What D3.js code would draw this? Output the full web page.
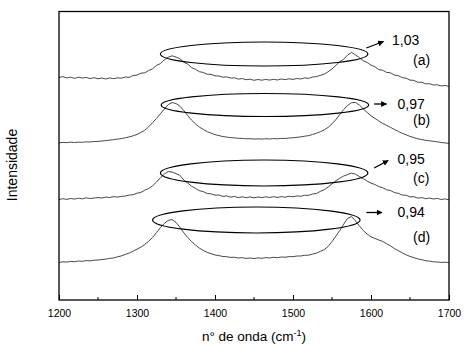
<!DOCTYPE html>
<html>
<head>
<meta charset="utf-8">
<script src="https://cdn.jsdelivr.net/npm/d3@7/dist/d3.min.js"></script>
<style>
  html, body { margin: 0; padding: 0; background: #fff; }
  svg { display: block; font-family: "Liberation Sans", Arial, sans-serif; }
</style>
</head>
<body>
<svg id="chart" width="467" height="345"></svg>
<script>
// Raman spectra (D and G bands), stacked with vertical offsets, intensity in arbitrary units
const waveStart = 1200, waveEnd = 1700, waveStep = 5;
const wavenumbers = d3.range(waveStart, waveEnd + 1, waveStep);

const spectrumA = [
  222.5,223.4,222.0,222.9,221.6,222.8,221.9,222.6,221.4,222.3,221.2,222.0,221.0,222.1,221.3,222.2,221.8,223.0,222.6,224.5,
  224.9,226.8,227.2,229.5,231.2,234.6,236.4,240.1,242.8,244.2,242.9,241.3,237.8,235.9,232.4,230.6,228.3,227.5,225.8,225.6,
  224.2,224.0,222.8,223.1,221.9,222.2,220.9,221.4,220.3,220.8,219.7,220.5,219.8,220.6,219.9,220.7,220.0,221.0,220.4,221.2,
  220.6,221.5,221.0,222.1,221.6,223.0,223.4,224.6,225.8,228.2,231.0,234.6,238.3,240.8,244.9,247.6,245.2,242.4,239.3,237.6,
  234.8,233.3,230.4,229.7,227.6,227.2,224.9,224.3,222.4,221.8,219.9,219.6,217.7,217.8,216.2,216.3,215.0,215.2,214.1,214.5,
  213.6
];
const spectrumB = [
  157.2,157.6,157.3,157.8,157.5,157.9,157.7,158.1,158.0,158.5,158.6,159.0,159.4,159.9,160.3,160.9,161.4,162.2,163.1,164.2,
  165.6,167.5,169.8,173.2,177.4,181.6,186.3,190.9,195.4,197.4,196.5,193.9,189.4,184.5,179.8,176.0,172.9,170.6,168.4,166.8,
  165.4,164.4,163.5,162.9,162.4,162.1,161.7,161.6,161.2,161.3,160.9,161.2,160.9,161.3,161.0,161.4,161.2,161.6,161.5,162.0,
  162.2,162.7,163.1,163.8,164.4,165.5,166.8,168.3,170.2,172.6,176.2,180.4,185.6,190.4,194.6,197.3,197.6,195.0,191.2,187.6,
  184.2,181.6,179.0,176.6,174.6,172.6,170.6,168.6,166.7,165.2,163.6,162.4,161.2,160.4,159.7,159.2,158.7,158.2,157.5,157.1,
  156.6
];
const spectrumC = [
  100.5,101.3,100.6,101.5,100.9,101.8,101.2,102.2,101.5,102.0,102.4,102.0,102.9,102.5,103.4,102.9,103.6,104.0,104.9,105.3,
  106.8,107.6,109.8,111.5,114.2,118.0,122.3,125.8,128.5,127.9,126.4,124.6,119.9,117.0,113.8,111.6,109.3,108.4,106.5,106.2,
  104.8,105.0,103.6,104.1,102.9,103.5,102.4,103.2,102.3,103.1,102.2,103.0,102.4,103.2,102.5,103.3,102.6,103.4,102.8,103.7,
  103.2,104.1,103.7,104.8,104.6,106.0,106.5,108.6,110.2,113.0,116.1,119.3,121.8,124.0,125.4,126.9,125.8,123.6,121.4,118.9,
  116.8,115.5,113.4,112.3,110.2,109.5,107.4,106.7,104.9,104.8,103.1,103.3,101.9,102.4,101.3,102.0,101.0,101.6,100.5,101.1,
  100.1
];
const spectrumD = [
  37.5,38.2,37.9,38.6,38.3,39.0,38.7,39.4,39.1,39.8,40.0,40.5,40.9,41.6,42.1,43.2,44.1,45.6,47.0,48.9,
  50.8,52.9,55.6,58.8,62.6,67.4,72.4,76.6,79.6,80.4,77.6,72.8,67.2,62.6,58.4,55.0,51.8,49.6,47.6,46.3,
  45.0,44.4,43.5,43.3,42.6,42.7,42.0,42.3,41.6,42.0,41.5,42.1,41.7,42.4,42.0,42.7,42.3,43.0,42.8,43.4,
  43.3,44.0,44.0,44.7,44.8,45.9,46.8,48.6,50.4,53.6,58.4,63.9,69.6,75.8,81.6,83.4,79.2,74.2,69.6,66.0,
  63.1,61.6,60.0,58.6,56.3,54.1,51.4,49.3,47.2,45.2,43.6,42.4,41.1,40.3,39.3,38.9,38.2,38.0,37.6,37.8,
  37.4
];

// I(D)/I(G) ratio per sample and the sample tags
const ratioLabels = ["1,03", "0,97", "0,95", "0,94"];
const sampleTags = ["(a)", "(b)", "(c)", "(d)"];

// Highlight ellipses around the D/G peak pair: centre wavenumber, centre intensity, half-width (cm-1), half-height (a.u.)
const ellipseCenterWave = [1463, 1464, 1463, 1453];
const ellipseCenterInt = [246, 195, 127, 80];
const ellipseHalfWave = [133, 133, 133, 133];
const ellipseHalfInt = [12, 11.5, 13, 13];

// Axis ticks
const majorTicks = [1200, 1300, 1400, 1500, 1600, 1700];
const minorTicks = [1250, 1350, 1450, 1550, 1650];

const svg = d3.select("#chart");
const margin = { left: 59, right: 18, top: 11.5, bottom: 45 };
const W = 467, H = 345;

const x = d3.scaleLinear().domain([waveStart, waveEnd]).range([margin.left, W - margin.right]);
const y = d3.scaleLinear().domain([0, 288.5]).range([H - margin.bottom, margin.top]);

const spectra = [spectrumA, spectrumB, spectrumC, spectrumD];

// Spectra
const line = d3.line()
  .x((d, i) => x(wavenumbers[i]))
  .y(d => y(d));

svg.append("g").selectAll("path")
  .data(spectra)
  .join("path")
  .attr("d", line)
  .attr("fill", "none")
  .attr("stroke", "#333")
  .attr("stroke-width", 0.9)
  .attr("stroke-linejoin", "round");

// Ellipses
svg.append("g").selectAll("ellipse")
  .data(ellipseCenterWave)
  .join("ellipse")
  .attr("cx", (d) => x(d))
  .attr("cy", (d, i) => y(ellipseCenterInt[i]))
  .attr("rx", (d, i) => x(d + ellipseHalfWave[i]) - x(d))
  .attr("ry", (d, i) => y(0) - y(ellipseHalfInt[i]))
  .attr("fill", "none")
  .attr("stroke", "#000")
  .attr("stroke-width", 1.2);

// Arrow marker
svg.append("defs").append("marker")
  .attr("id", "head")
  .attr("viewBox", "0 0 10 10")
  .attr("refX", 9).attr("refY", 5)
  .attr("markerWidth", 6).attr("markerHeight", 6)
  .attr("markerUnits", "userSpaceOnUse")
  .attr("orient", "auto")
  .append("path")
  .attr("d", "M0,0 L10,5 L0,10 Z")
  .attr("fill", "#000");

// Arrows from ellipse towards the ratio label (start/end in wavenumber, intensity)
const arrowFromWave = [1594, 1604, 1604, 1594];
const arrowFromInt = [252, 196, 132, 87.5];
const arrowToWave = [1616, 1620, 1622, 1614];
const arrowToInt = [258.5, 196, 139.5, 87.5];

svg.append("g").selectAll("line")
  .data(arrowFromWave)
  .join("line")
  .attr("x1", d => x(d))
  .attr("y1", (d, i) => y(arrowFromInt[i]))
  .attr("x2", (d, i) => x(arrowToWave[i]))
  .attr("y2", (d, i) => y(arrowToInt[i]))
  .attr("stroke", "#000")
  .attr("stroke-width", 1.3)
  .attr("marker-end", "url(#head)");

// Ratio labels and sample tags
const ratioWave = [1627, 1634, 1634, 1634];
const ratioInt = [255, 191.5, 136, 83.5];
const tagWave = [1654, 1654, 1654, 1654];
const tagInt = [235.5, 175, 117, 58.5];

svg.append("g").selectAll("text")
  .data(ratioLabels)
  .join("text")
  .attr("x", (d, i) => x(ratioWave[i]))
  .attr("y", (d, i) => y(ratioInt[i]))
  .attr("font-size", 14)
  .attr("fill", "#000")
  .text(d => d);

svg.append("g").selectAll("text")
  .data(sampleTags)
  .join("text")
  .attr("x", (d, i) => x(tagWave[i]))
  .attr("y", (d, i) => y(tagInt[i]))
  .attr("font-size", 14)
  .attr("fill", "#000")
  .text(d => d);

// Bottom axis with inward ticks
const axisG = svg.append("g").attr("transform", `translate(0,${y(0)})`);
axisG.call(d3.axisBottom(x).tickValues(majorTicks).tickFormat(d3.format("d"))
    .tickSizeInner(-5).tickSizeOuter(0).tickPadding(10))
  .call(g => g.select(".domain").remove())
  .call(g => g.selectAll("text").attr("font-size", 10.5).attr("font-family", "'Liberation Sans', Arial, sans-serif").attr("fill", "#000"))
  .call(g => g.selectAll("line").attr("stroke", "#000").attr("stroke-width", 1));

axisG.append("g").selectAll("line")
  .data(minorTicks)
  .join("line")
  .attr("x1", d => x(d)).attr("x2", d => x(d))
  .attr("y1", 0).attr("y2", -3)
  .attr("stroke", "#000");

// Plot frame
svg.append("rect")
  .attr("x", x(waveStart))
  .attr("y", y(288.5))
  .attr("width", x(waveEnd) - x(waveStart))
  .attr("height", y(0) - y(288.5))
  .attr("fill", "none")
  .attr("stroke", "#000")
  .attr("stroke-width", 1.3);

// Axis titles
const xt = svg.append("text")
  .attr("x", 254)
  .attr("y", 340.5)
  .attr("text-anchor", "middle")
  .attr("font-size", 13.5)
  .attr("fill", "#000");
xt.append("tspan").text("n° de onda (cm");
xt.append("tspan").attr("dy", -5).attr("font-size", 9).text("-1");
xt.append("tspan").attr("dy", 5).text(")");

svg.append("text")
  .attr("transform", "translate(17,165) rotate(-90)")
  .attr("text-anchor", "middle")
  .attr("font-size", 14)
  .attr("fill", "#000")
  .text("Intensidade");
</script>
</body>
</html>
